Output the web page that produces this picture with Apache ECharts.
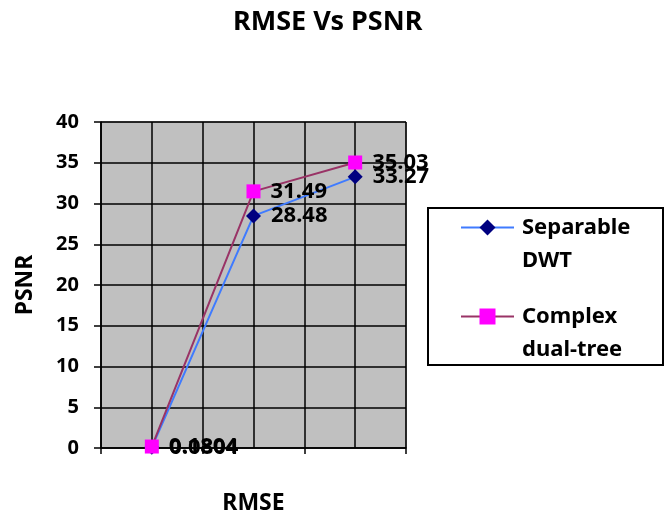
<!DOCTYPE html>
<html>
<head>
<meta charset="utf-8">
<style type="text/css">
body{margin:0; background:#fff}
#chart{width:666px; height:515px}
</style>
</head>
<body>
<div id="chart"></div>
<script src="https://cdn.jsdelivr.net/npm/echarts@6/dist/echarts.min.js"></script>
<script type="text/javascript">
// RMSE positions (points sit on every other gridline)
var xPos = [1, 3, 5];
var seriesNames = ['Separable\nDWT', 'Complex\ndual-tree'];
var separable = [0.0804, 28.48, 33.27];
var complex = [0.1804, 31.49, 35.03];
var yTicks = [0, 5, 10, 15, 20, 25, 30, 35, 40];

var font = 'Noto Sans';
var chart = echarts.init(document.getElementById('chart'));

function pairs(vals){
    var out = [];
    for (var i = 0; i < vals.length; i++) out.push([xPos[i], vals[i]]);
    return out;
}

var labelStyle = {
    show: true,
    position: 'right',
    distance: 10,
    color: '#000',
    fontFamily: font,
    fontWeight: 'bold',
    fontSize: 22
};

option = {
    animation: false,
    title: {
        text: 'RMSE Vs PSNR',
        left: 228,
        top: 4,
        textStyle: {fontFamily: font, fontWeight: 'bold', fontSize: 27, color: '#000'}
    },
    grid: {
        left: 101,
        right: 260,
        top: 122,
        bottom: 67,
        outerBoundsMode: 'none',
        show: true,
        backgroundColor: '#c0c0c0',
        borderColor: '#555',
        borderWidth: 1
    },
    // legend box drawn separately so the text can hang below the icon
    graphic: [{
        type: 'rect',
        left: 427,
        top: 207,
        shape: {width: 235, height: 157},
        style: {fill: '#fff', stroke: '#000', lineWidth: 2},
        z: 0
    }],
    legend: {
        orient: 'vertical',
        left: 460,
        top: 178,
        padding: 0,
        itemGap: -10,
        itemWidth: 53,
        itemHeight: 20,
        // blank first line keeps the icon level with the first text line
        formatter: function(name){ return ' \n' + name; },
        textStyle: {
            fontFamily: font,
            fontWeight: 'bold',
            fontSize: 22,
            lineHeight: 33,
            padding: [0, 0, 0, 3],
            color: '#000'
        },
        data: seriesNames
    },
    xAxis: {
        type: 'value',
        min: 0,
        max: 6,
        interval: 2,
        name: 'RMSE',
        nameLocation: 'middle',
        nameGap: 44,
        nameTextStyle: {fontFamily: font, fontWeight: 'bold', fontSize: 23, color: '#000'},
        axisLine: {lineStyle: {color: '#000', width: 1.5}},
        axisTick: {show: true, length: 6, lineStyle: {color: '#000', width: 1.5}},
        axisLabel: {show: false},
        splitLine: {show: true, lineStyle: {color: '#000', width: 1.5}},
        minorTick: {show: false, splitNumber: 2},
        minorSplitLine: {show: true, lineStyle: {color: '#000', width: 1.5}}
    },
    yAxis: {
        type: 'value',
        min: yTicks[0],
        max: yTicks[yTicks.length - 1],
        interval: 5,
        name: 'PSNR',
        nameLocation: 'middle',
        nameGap: 64,
        nameTextStyle: {fontFamily: font, fontWeight: 'bold', fontSize: 23, color: '#000'},
        axisLine: {show: true, lineStyle: {color: '#000', width: 1.5}},
        axisTick: {show: true, length: 7, lineStyle: {color: '#000', width: 1.5}},
        axisLabel: {fontFamily: font, fontWeight: 'bold', fontSize: 20, color: '#000', margin: 22},
        splitLine: {show: true, lineStyle: {color: '#000', width: 1.5}}
    },
    series: [
        {
            name: seriesNames[0],
            type: 'line',
            data: pairs(separable),
            symbol: 'diamond',
            symbolSize: 15,
            itemStyle: {color: '#000080'},
            lineStyle: {color: '#3f7bff', width: 2},
            label: labelStyle
        },
        {
            name: seriesNames[1],
            type: 'line',
            data: pairs(complex),
            symbol: 'rect',
            symbolSize: 14,
            itemStyle: {color: '#ff00ff'},
            lineStyle: {color: '#993366', width: 2},
            label: labelStyle
        }
    ]
};
chart.setOption(option, true);
</script>
</body>
</html>
